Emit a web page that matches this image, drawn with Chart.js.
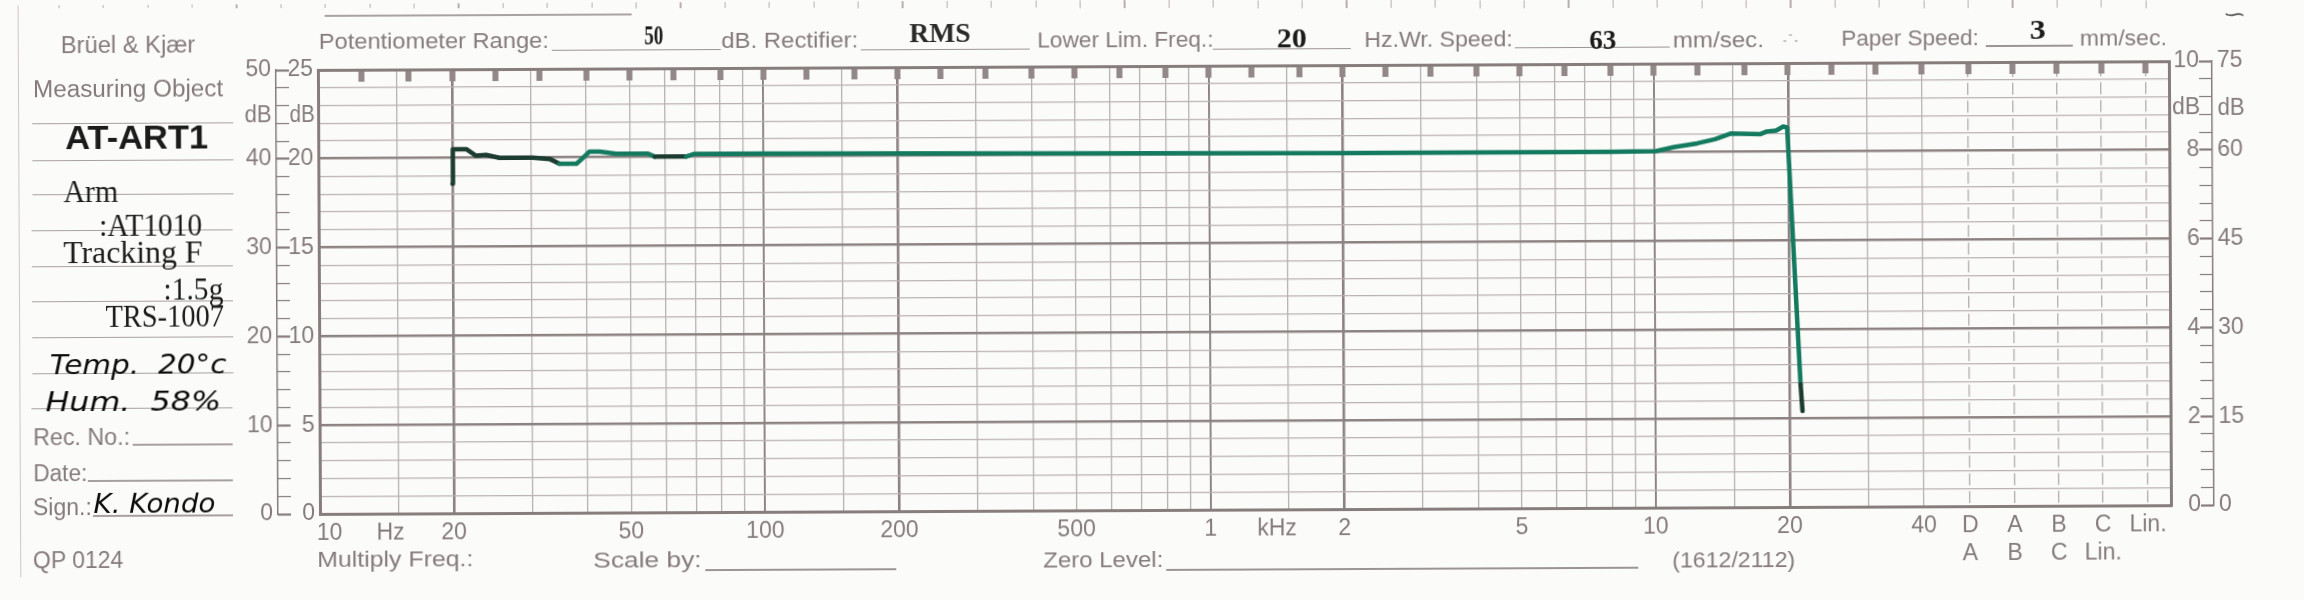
<!DOCTYPE html>
<html><head><meta charset="utf-8">
<script src="https://cdn.jsdelivr.net/npm/chart.js@4.4.1/dist/chart.umd.min.js"></script>
<style>
html,body{margin:0;padding:0;background:#fbfbf9;overflow:hidden;}
#paper{position:relative;width:2304px;height:600px;overflow:hidden;background:#fbfbf9;transform-origin:1152px 300px;}
#chart{position:absolute;left:0;top:0;}
.t{position:absolute;white-space:pre;line-height:1;transform-origin:50% 50%;}
.r{position:absolute;transform-origin:0 50%;}
</style></head>
<body><div id="paper"><canvas id="chart" width="2304" height="600"></canvas></div>
<script>
// ---------------- data read from the recording ----------------
const freqHz  = [20, 20.05, 20.4, 21.5, 22.6, 23.8, 25.5, 30.3, 33.1, 34.8, 38.0, 39.1, 40.6, 42.8, 46.7, 55, 57, 67, 70, 100, 200, 500, 1000, 2000, 5000, 8000, 10100, 11100, 12500, 13700, 14900, 17300, 17900, 18800, 19500, 19900, 21200, 21400];
const levelDb = [37.1, 41.0, 41.0, 41.0, 40.25, 40.35, 40.0, 40.0, 39.85, 39.3, 39.3, 39.85, 40.65, 40.65, 40.4, 40.4, 40.05, 40.05, 40.35, 40.35, 40.3, 40.2, 40.15, 40.1, 40.1, 40.1, 40.15, 40.6, 41.0, 41.45, 42.1, 42.0, 42.3, 42.4, 42.85, 42.75, 13.8, 10.8];
const darkInkRanges = [[20, 34.8], [57, 67], [21200, 21400]];

// ---------------- paper scales ----------------
const gridFreqs = [10,15,20,30,40,50,60,70,80,90,100,150,200,300,400,500,600,700,800,900,1000,1500,2000,3000,4000,5000,6000,7000,8000,9000,10000,15000,20000,30000,40000];
const labelFreqs = [10, 14.4, 20, 50, 100, 200, 500, 1000, 1410, 2000, 5000, 10000, 20000, 40000];
const labelTexts = ['10','Hz','20','50','100','200','500','1','kHz','2','5','10','20','40'];
const weightFreqs = [50800, 64000, 80400, 101000, 127400];
const weightTop = ['D','A','B','C','Lin.'];
const weightBottom = ['A','B','C','Lin.',''];
const thirdOctaveFreqs = [12.5,16,20,25,31.5,40,50,63,80,100,125,160,200,250,315,400,500,630,800,1000,1250,1600,2000,2500,3150,4000,5000,6300,8000,10000,12500,16000,20000,25000,31500,40000];
const dbGrid = [0,2,4,6,8,10,12,14,16,18,20,22,24,26,28,30,32,34,36,38,40,42,44,46,48,50];
const dbTicks = [0,10,20,30,40,50];
const leftOuter = ['0','10','20','30','40','50'];
const leftInner = ['0','5','10','15','20','25'];
const rightInner = ['0','2','4','6','8','10'];
const rightOuter = ['0','15','30','45','60','75'];
const X_MIN = 10, X_MAX = 143500;

// ---------------- styling ----------------
const SKEW_DEG = 0.27;
const SANS = '"Liberation Sans", Arial, sans-serif';
const SERIF = '"Liberation Serif", "Times New Roman", serif';
const HAND = '"DejaVu Sans", sans-serif';
const GRAY = '#857b7b', FRAME = '#877d7d', GRID_THIN = '#bab2b2', GRID_THICK = '#8c8282';
const TEAL = '#147a5f', DARK = '#1c3b31', INK = '#1b1b1b';

const paper = document.getElementById('paper');
paper.style.transform = `rotate(${-SKEW_DEG}deg)`;
const SIN = Math.sin(SKEW_DEG*Math.PI/180), COS = Math.cos(SKEW_DEG*Math.PI/180);
function toLayout(x, y){ const dx = x-1152, dy = y-300; return [1152 + dx*COS - dy*SIN, 300 + dx*SIN + dy*COS]; }

function txt(s, x1, x2, yc, o){
  const el = document.createElement('div'); el.className = 't'; el.textContent = s;
  el.style.font = `${o.style||'normal'} ${o.weight||400} ${o.size}px ${o.family||SANS}`;
  el.style.color = o.color || GRAY;
  paper.appendChild(el);
  const w = el.offsetWidth, h = el.offsetHeight;
  const [cx, cy] = toLayout((x1+x2)/2, yc);
  el.style.left = (cx - w/2) + 'px'; el.style.top = (cy - h/2) + 'px';
  el.style.transform = `scaleX(${(x2-x1)/w})`;
}
function rule(x1, x2, y, w, color){
  const el = document.createElement('div'); el.className = 'r';
  const [lx, ly] = toLayout(x1, y);
  el.style.left = lx + 'px'; el.style.top = (ly - w/2) + 'px';
  el.style.width = (x2-x1) + 'px'; el.style.height = w + 'px'; el.style.background = color;
  paper.appendChild(el);
}
function vrule(x, y1, y2, w, color){
  const el = document.createElement('div'); el.className = 'r';
  const [lx, ly] = toLayout(x, y1);
  el.style.left = (lx - w/2) + 'px'; el.style.top = ly + 'px';
  el.style.width = w + 'px'; el.style.height = (y2-y1) + 'px'; el.style.background = color;
  paper.appendChild(el);
}

// ---------------- paper print & handwriting ----------------
vrule(18, 0, 577, 1.5, '#cfc7c7');
for (let x = 59; x < 2160; x += 44.4) vrule(x, 0, 8, 1.2, '#b7afaf');
rule(325, 632, 16, 1.5, '#aaa2a2');

const P = {size:23, family:SANS, color:GRAY};
txt('Brüel & Kjær', 61, 195, 45, P);
txt('Measuring Object', 33, 223, 89, P);
[124,161,195,231,267,302,338,374,409].forEach(y => rule(32, 233, y, 1.5, '#a8a0a0'));
rule(133, 233, 445, 1.5, '#a8a0a0');
rule(88, 233, 481, 1.5, '#a8a0a0');
rule(93, 233, 516, 1.5, '#a8a0a0');
txt('AT-ART1', 65, 208, 137.5, {size:33, weight:700, family:SANS, color:INK});
const TY = {size:32, family:SERIF, color:INK};
txt('Arm', 63, 118, 192, TY);
txt(':AT1010', 99, 202, 225, TY);
txt('Tracking F', 63, 202, 252, TY);
txt(':1.5g', 163, 223, 289, TY);
txt('TRS-1007', 106, 224, 316, TY);
const HW = {size:27, weight:400, family:HAND, style:'italic', color:'#0c0c0c'};
txt('Temp.  20°c', 50, 227, 364, HW);
txt('Hum.  58%', 45, 220, 401, HW);
txt('Rec. No.:', 33, 130, 438, P);
txt('Date:', 33, 87, 474, P);
txt('Sign.:', 33, 92, 508, P);
txt('K. Kondo', 93, 215, 503, HW);
txt('QP 0124', 33, 123, 561, P);

const H = {size:22, family:SANS, color:GRAY};
const STAMP = {size:28, weight:700, family:SERIF, color:INK};
txt('Potentiometer Range:', 319, 549, 41, H);
rule(552, 721, 50, 1.3, '#9c9494');
txt('50', 644, 663, 35, STAMP);
txt('dB. Rectifier:', 721, 858, 41, H);
rule(861, 1030, 50, 1.3, '#9c9494');
txt('RMS', 909, 970, 33, {size:28, weight:700, family:SERIF, color:'#2a2a2a'});
txt('Lower Lim. Freq.:', 1037, 1213, 40, H);
rule(1213, 1351, 49, 1.3, '#9c9494');
txt('20', 1277, 1307, 38, STAMP);
txt('Hz.Wr. Speed:', 1364, 1512, 40, H);
rule(1515, 1670, 48, 1.3, '#9c9494');
txt('63', 1589, 1616, 40, STAMP);
txt('mm/sec.', 1673, 1764, 40, H);
txt('∴', 1781, 1798, 38, {size:16, family:SANS, color:'#c9c1c1'});
txt('Paper Speed:', 1841, 1979, 38, H);
rule(1986, 2073, 46, 1.3, '#9c9494');
txt('3', 2030, 2046, 30, STAMP);
txt('mm/sec.', 2080, 2167, 38, H);
txt('∽', 2222, 2246, 14, {size:20, family:SANS, color:'#555'});

txt('dB', 245, 272, 115, P);
txt('dB', 290, 315, 115, P);
txt('dB', 2172, 2200, 107, P);
txt('dB', 2218, 2245, 107, P);

txt('Multiply Freq.:', 317, 473, 560, H);
txt('Scale by:', 593, 702, 560, H);
rule(705, 896, 570, 1.3, '#9c9494');
txt('Zero Level:', 1043, 1163, 560, H);
rule(1166, 1638, 570, 1.3, '#9c9494');
txt('(1612/2112)', 1672, 1795, 560, H);

// ---------------- chart ----------------
const ticksFrom = arr => arr.map(v => ({value: v}));
const fixW = w => s => { s.width = w; };
const fixH = h => s => { s.height = h; };
const isMajorDb = c => !!(c.tick && c.tick.value % 10 === 0);
const thickFreqs = [10, 20, 200, 2000, 20000];
const decadeFreqs = [100, 1000, 10000];
const allX = Array.from(new Set([...gridFreqs, ...labelFreqs, ...weightFreqs])).sort((a,b)=>a-b);

function xLabel(v){
  const i = labelFreqs.indexOf(v);
  if (i >= 0) return v === 10 ? '   ' + labelTexts[i] : labelTexts[i];
  const j = weightFreqs.indexOf(v);
  if (j >= 0) return [weightTop[j], weightBottom[j]];
  return '';
}
function xGridColor(c){
  if (!c.tick) return GRID_THIN;
  const v = c.tick.value;
  if (!gridFreqs.includes(v)) return 'rgba(0,0,0,0)';
  return (thickFreqs.includes(v) || decadeFreqs.includes(v)) ? GRID_THICK : GRID_THIN;
}
function xGridWidth(c){
  if (!c.tick) return 1;
  const v = c.tick.value;
  if (!gridFreqs.includes(v)) return 0;
  if (thickFreqs.includes(v)) return 2.6;
  if (decadeFreqs.includes(v)) return 1.9;
  return 1.3;
}
const barAxis = (pos, weight) => ({
  type:'linear', position:pos, weight, min:0, max:50,
  afterBuildTicks: s => { s.ticks = ticksFrom(dbGrid); },
  ticks:{display:false, autoSkip:false},
  grid:{display:true, drawOnChartArea:false, drawTicks:true, tickLength:13, tickColor:FRAME,
        tickWidth: c => isMajorDb(c) ? 2.2 : 1.2},
  border:{display:false},
  afterFit: fixW(13)
});
const labelAxis = (pos, weight, labels, extra) => Object.assign({
  type:'linear', position:pos, weight, min:0, max:50,
  afterBuildTicks: s => { s.ticks = ticksFrom(dbTicks); },
  ticks:{autoSkip:false, padding:5, color:GRAY, font:{family:SANS, size:23},
         callback: v => { const i = dbTicks.indexOf(v); return i < 0 ? '' : labels[i]; }},
  grid:{display:true, drawOnChartArea:false, drawTicks:false},
  border:{display:true, color:FRAME, width:1.5},
  afterFit: fixW(47)
}, extra || {});

Chart.defaults.font.family = SANS;
new Chart(document.getElementById('chart'), {
  type:'line',
  data:{ datasets:[{
    data: freqHz.map((f, i) => ({x:f, y:levelDb[i]})),
    xAxisID:'x', yAxisID:'y',
    borderColor:TEAL, borderWidth:4.5, pointRadius:0, tension:0, fill:false,
    borderCapStyle:'round', borderJoinStyle:'round',
    segment:{ borderColor: c => {
      const a = freqHz[c.p0DataIndex], b = freqHz[c.p1DataIndex];
      return darkInkRanges.some(([lo, hi]) => a >= lo && b <= hi) ? DARK : TEAL;
    }}
  }]},
  options:{
    responsive:false, animation:false, devicePixelRatio:1, events:[],
    layout:{padding:{left:230, right:44, top:46, bottom:30}},
    plugins:{legend:{display:false}, tooltip:{enabled:false}},
    scales:{
      x:{
        type:'logarithmic', position:'bottom', weight:0, min:X_MIN, max:X_MAX,
        afterBuildTicks: s => { s.ticks = ticksFrom(allX); },
        ticks:{autoSkip:false, maxRotation:0, minRotation:0, padding:6, color:GRAY,
               font:{family:SANS, size:23, lineHeight:28/23}, callback: v => xLabel(v)},
        grid:{drawTicks:false, color:xGridColor, lineWidth:xGridWidth},
        border:{display:true, color:FRAME, width:3},
        afterFit: fixH(60)
      },
      xDash:{
        type:'logarithmic', position:'bottom', weight:1, min:X_MIN, max:X_MAX,
        afterBuildTicks: s => { s.ticks = ticksFrom(weightFreqs); },
        ticks:{display:false, autoSkip:false},
        grid:{display:true, drawOnChartArea:true, drawTicks:false, color:GRID_THIN, lineWidth:1.4},
        border:{display:false, dash:[12, 5.76], dashOffset:14.88},
        afterFit: fixH(0)
      },
      xTop:{
        type:'logarithmic', position:'top', min:X_MIN, max:X_MAX,
        afterBuildTicks: s => { s.ticks = ticksFrom([...thirdOctaveFreqs, ...weightFreqs]); },
        ticks:{display:false, autoSkip:false},
        grid:{display:true, drawOnChartArea:false, drawTicks:true, tickLength:-12, tickWidth:6, tickColor:'#928888'},
        border:{display:true, color:FRAME, width:3},
        afterFit: fixH(20)
      },
      y:{
        type:'linear', position:'left', weight:0, min:0, max:50,
        afterBuildTicks: s => { s.ticks = ticksFrom(dbGrid); },
        ticks:{autoSkip:false, padding:5, color:GRAY, font:{family:SANS, size:23},
               callback: v => { const i = dbTicks.indexOf(v); return i < 0 ? '' : leftInner[i]; }},
        grid:{drawTicks:false, color: c => isMajorDb(c) ? GRID_THICK : GRID_THIN,
              lineWidth: c => isMajorDb(c) ? 2.6 : 1.2},
        border:{display:true, color:FRAME, width:3},
        afterFit: fixW(29)
      },
      yBarL: barAxis('left', 1),
      yOutL: labelAxis('left', 2, leftOuter),
      yR: labelAxis('right', 0, rightInner, {
        ticks:{autoSkip:false, padding:2, crossAlign:'far', color:GRAY, font:{family:SANS, size:23},
               callback: v => { const i = dbTicks.indexOf(v); return i < 0 ? '' : rightInner[i]; }},
        border:{display:true, color:FRAME, width:3},
        afterFit: fixW(30)
      }),
      yBarR: barAxis('right', 1),
      yOutR: labelAxis('right', 2, rightOuter)
    }
  }
});
</script></body></html>
